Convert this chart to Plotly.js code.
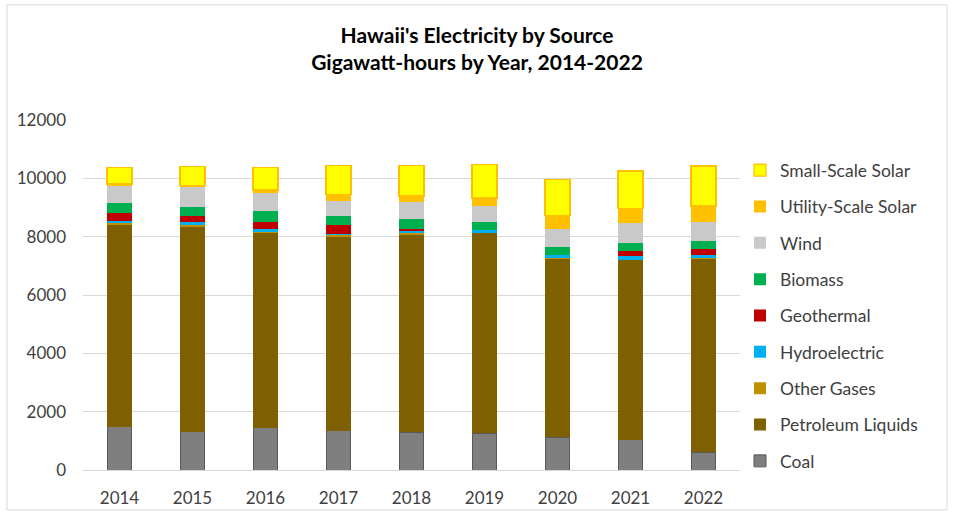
<!DOCTYPE html>
<html>
<head>
<meta charset="utf-8">
<script src="https://cdn.plot.ly/plotly-3.0.1.min.js"></script>
<style>
html,body{margin:0;padding:0;background:#fff;}
#chart{width:954px;height:515px;}
</style>
</head>
<body>
<div id="chart"></div>
<script>
const years = ["2014","2015","2016","2017","2018","2019","2020","2021","2022"];
const coal        = [1485, 1314, 1451, 1348, 1291, 1257, 1131, 1040, 606];
const petroleum   = [6915, 7029, 6665, 6631, 6767, 6863, 6119, 6160, 6644];
const otherGases  = [70, 57, 35, 69, 79, 20, 20, 11, 20];
const hydro       = [79, 104, 103, 45, 58, 90, 102, 127, 102];
const geothermal  = [275, 206, 250, 318, 79, 0, 0, 171, 218];
const biomass     = [322, 319, 377, 309, 333, 284, 275, 275, 273];
const wind        = [593, 665, 628, 514, 593, 549, 607, 675, 651];
const utilitySolar= [70, 56, 92, 219, 195, 264, 480, 515, 539];
const smallSolar  = [570, 650, 779, 982, 1053, 1142, 1234, 1279, 1371];
const yTicks = [0, 2000, 4000, 6000, 8000, 10000, 12000];

const series = [
  {name:"Coal", y:coal, color:"#7F7F7F", line:"#595959", lw:1},
  {name:"Petroleum Liquids", y:petroleum, color:"#7F6000", line:"#7F6000", lw:0},
  {name:"Other Gases", y:otherGases, color:"#BF9000", line:"#BF9000", lw:0},
  {name:"Hydroelectric", y:hydro, color:"#00B0F0", line:"#00B0F0", lw:0},
  {name:"Geothermal", y:geothermal, color:"#C00000", line:"#C00000", lw:0},
  {name:"Biomass", y:biomass, color:"#00B050", line:"#00B050", lw:0},
  {name:"Wind", y:wind, color:"#C9C9C9", line:"#C9C9C9", lw:0},
  {name:"Utility-Scale Solar", y:utilitySolar, color:"#FFC000", line:"#FFC000", lw:0},
  {name:"Small-Scale Solar", y:smallSolar, color:"#FFFF00", line:"#FFC000", lw:1.2}
];

const traces = series.map((s, i) => ({
  type:"bar", name:s.name, x:years, y:s.y, legendgroup:s.name,
  legendrank: 1000 - i,
  marker:{color:s.color, line:{color:s.line, width:s.lw}},
  hoverinfo:"x+y+name"
}));

const font = "Lato, 'Open Sans', sans-serif";
const layout = {
  width:954, height:515,
  margin:{l:83, r:214, t:120, b:45},
  paper_bgcolor:"#fff", plot_bgcolor:"#fff",
  barmode:"stack", bargap:0.66,
  title:{text:"<b>Hawaii's Electricity by Source<br>Gigawatt-hours by Year, 2014-2022</b>",
         font:{family:font, size:21, color:"#000"}, x:0.5, xanchor:"center", y:0.917, yanchor:"middle"},
  xaxis:{tickfont:{family:font, size:17, color:"#404040"}, showline:false, ticks:"", showgrid:false,
         ticklabelstandoff:16, automargin:false},
  yaxis:{range:[0,12000], tickvals:yTicks, ticktext:yTicks.map(String),
         tickfont:{family:font, size:17, color:"#404040"},
         gridcolor:"#D9D9D9", gridwidth:1, zeroline:true, zerolinecolor:"#D9D9D9", zerolinewidth:1,
         ticks:"", ticklabelstandoff:16, automargin:false},
  legend:{traceorder:"grouped", tracegroupgap:10.6, x:1.0, xanchor:"left", y:0.908, yanchor:"top",
          font:{family:font, size:17.5, color:"#404040"}, itemwidth:30},
  shapes:[{type:"rect", xref:"paper", yref:"paper", x0:-0.1157, x1:1.315, y0:-0.114, y1:1.329,
           line:{color:"#D9D9D9", width:1}, fillcolor:"rgba(0,0,0,0)", layer:"below"}],
  showlegend:true
};
Plotly.newPlot("chart", traces, layout, {displayModeBar:false, staticPlot:true});
</script>
</body>
</html>
